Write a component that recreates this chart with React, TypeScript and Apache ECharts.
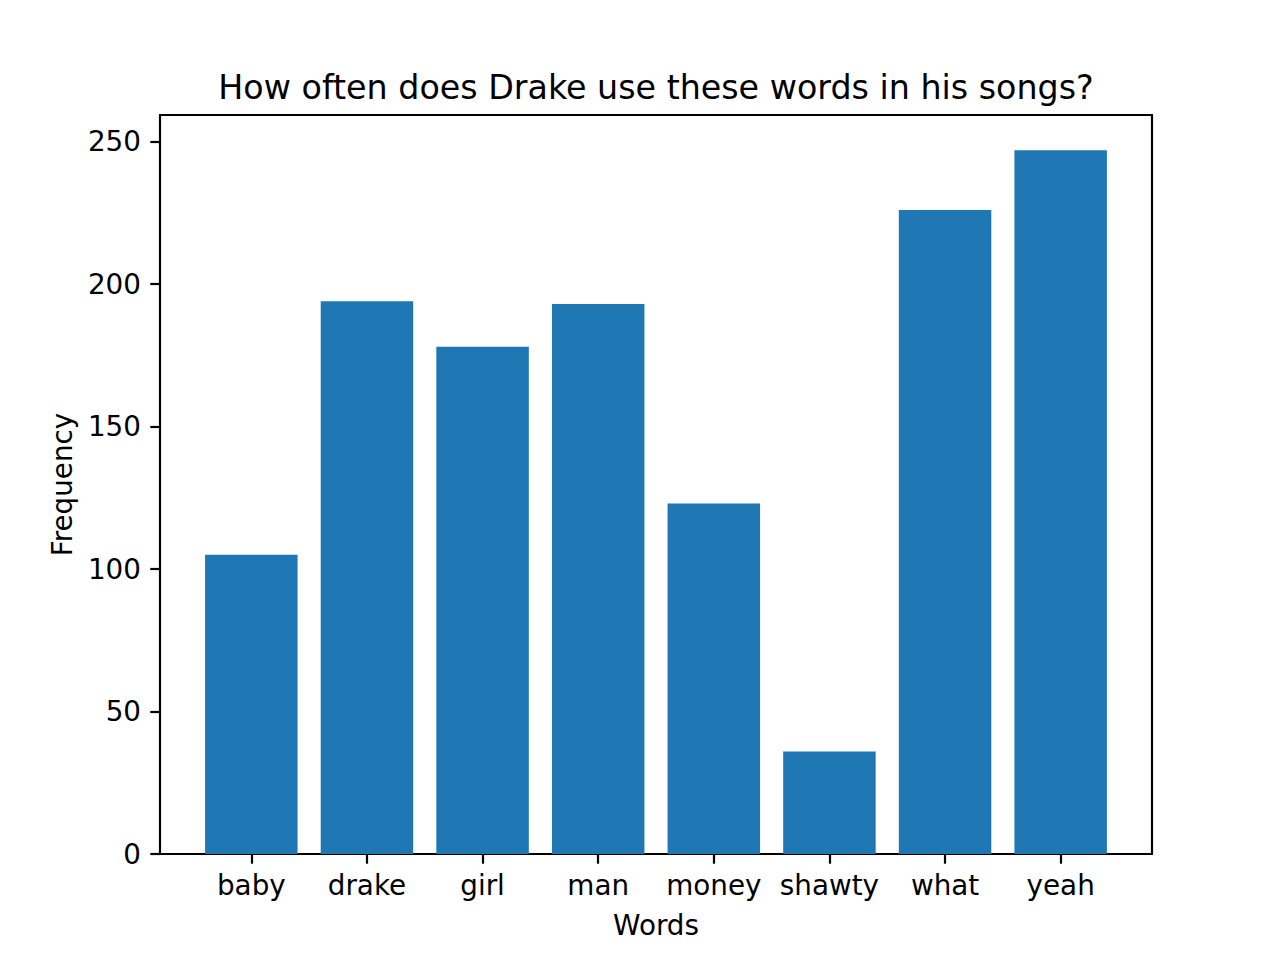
import React, { useEffect, useRef } from "react";
import * as echarts from "echarts";

const categories = ["baby", "drake", "girl", "man", "money", "shawty", "what", "yeah"];
const frequencies = [105, 194, 178, 193, 123, 36, 226, 247];
const yTicks = [0, 50, 100, 150, 200, 250];
const yMax = 259.35;

const FONT = "DejaVu Sans";
const PLOT_LEFT = 160;
const PLOT_TOP = 115;
const PLOT_W = 992;
const PLOT_H = 739;
const XMIN = -0.79;
const XMAX = 7.79;
const UNIT = PLOT_W / (XMAX - XMIN);
const BAR_LEFT = PLOT_LEFT + (-0.5 - XMIN) * UNIT;
const BAR_W = categories.length * UNIT;

export default function App() {
  const ref = useRef<HTMLDivElement>(null);
  useEffect(() => {
    document.body.style.margin = "0";
    const chart = echarts.init(ref.current!, null, { renderer: "svg" });
    const lineStyle = { color: "#000", width: 2.2 };
    chart.setOption({
      animation: false,
      backgroundColor: "#fff",
      title: {
        text: "How often does Drake use these words in his songs?",
        left: PLOT_LEFT + PLOT_W / 2 - 5,
        textAlign: "center",
        top: 66,
        textStyle: { fontFamily: FONT, fontSize: 33.3, fontWeight: "normal", color: "#000" },
      },
      grid: [
        { left: PLOT_LEFT, top: PLOT_TOP, width: PLOT_W, height: PLOT_H },
        { left: BAR_LEFT, top: PLOT_TOP, width: BAR_W, height: PLOT_H },
      ],
      xAxis: [
        {
          gridIndex: 0,
          type: "value",
          min: 0,
          max: 1,
          position: "bottom",
          axisLine: { show: true, onZero: false, lineStyle },
          axisTick: { show: false },
          axisLabel: { show: false },
          splitLine: { show: false },
          name: "Words",
          nameLocation: "middle",
          nameGap: 57,
          nameTextStyle: { fontFamily: FONT, fontSize: 27.8, color: "#000" },
        },
        {
          gridIndex: 0,
          type: "value",
          min: 0,
          max: 1,
          position: "top",
          axisLine: { show: true, onZero: false, lineStyle },
          axisTick: { show: false },
          axisLabel: { show: false },
          splitLine: { show: false },
        },
        {
          gridIndex: 1,
          type: "category",
          data: categories,
          position: "bottom",
          axisLine: { show: false, onZero: false },
          axisTick: { show: true, alignWithLabel: true, interval: 0, length: 9.7, lineStyle },
          axisLabel: { fontFamily: FONT, fontSize: 27.8, color: "#000", margin: 17, interval: 0 },
          splitLine: { show: false },
        },
      ],
      yAxis: [
        {
          gridIndex: 0,
          type: "value",
          min: 0,
          max: yMax,
          position: "left",
          axisLine: { show: true, onZero: false, lineStyle },
          axisTick: { show: true, length: 9.7, lineStyle, customValues: yTicks },
          axisLabel: {
            fontFamily: FONT,
            fontSize: 27.8,
            color: "#000",
            margin: 19,
            customValues: yTicks,
          },
          splitLine: { show: false },
          name: "Frequency",
          nameLocation: "middle",
          nameRotate: 90,
          nameGap: 84,
          nameTextStyle: { fontFamily: FONT, fontSize: 27.8, color: "#000" },
        },
        {
          gridIndex: 0,
          type: "value",
          min: 0,
          max: yMax,
          position: "right",
          axisLine: { show: true, onZero: false, lineStyle },
          axisTick: { show: false },
          axisLabel: { show: false },
          splitLine: { show: false },
        },
        {
          gridIndex: 1,
          type: "value",
          min: 0,
          max: yMax,
          show: false,
        },
      ],
      series: [
        {
          type: "bar",
          xAxisIndex: 2,
          yAxisIndex: 2,
          data: frequencies,
          barCategoryGap: "20%",
          itemStyle: { color: "#1f77b4" },
        },
      ],
    });
    return () => chart.dispose();
  }, []);
  return <div ref={ref} style={{ width: 1280, height: 960 }} />;
}
